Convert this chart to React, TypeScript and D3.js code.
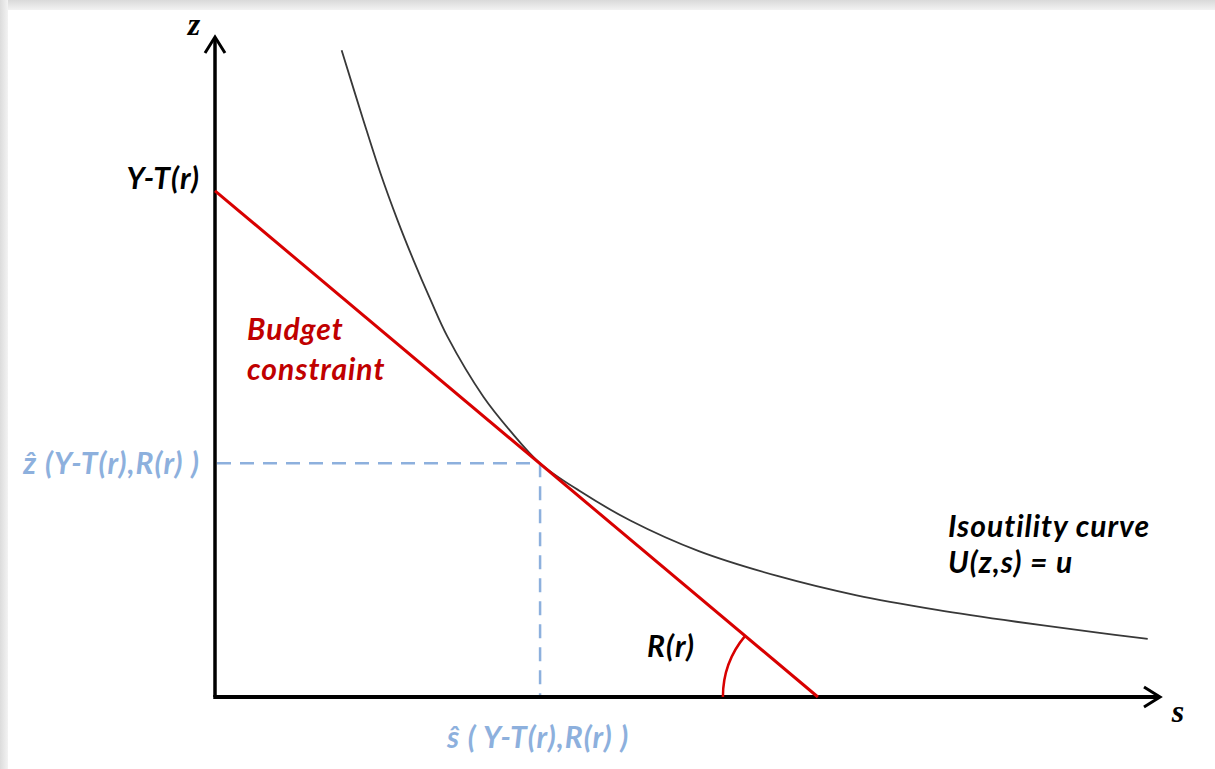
import React from 'react';
import * as d3 from 'd3';

// isoutility curve U(z,s)=u (s, z)
const curveS = [13.4, 15.7, 17.5, 19.3, 21.0, 22.8, 24.6, 28.4, 31.2, 34.4, 38.6, 44.0, 51.2, 59.6, 67.9, 76.4, 84.8, 93.2, 98.7];
const curveZ = [98.0, 87.4, 79.4, 72.3, 66.2, 60.2, 54.6, 45.5, 40.4, 35.4, 31.2, 26.7, 22.1, 18.3, 15.4, 13.2, 11.4, 9.8, 8.8];

// budget constraint: intercepts on both axes
const budgetZ = 76.7; // Y-T(r)
const budgetS = 63.8;

// optimum (tangency)
const sHat = 34.4;
const zHat = 35.4;

const W = 1215;
const H = 769;
const RED = '#d80000';
const DARK_RED = '#c00000';
const BLUE = '#8db0dd';
const LABEL_FONT = 'Lato, "Open Sans", sans-serif';

const App: React.FC = () => {
    const xScale = d3.scaleLinear().domain([0, 100]).range([215, 1160]);
    const yScale = d3.scaleLinear().domain([0, 100]).range([697, 37]);

    const x0 = xScale(0);
    const y0 = yScale(0);
    const xEnd = xScale(100);
    const yTop = yScale(100);

    const curveLine = d3.line<number>()
        .x((d) => xScale(d))
        .y((d, i) => yScale(curveZ[i]))
        .curve(d3.curveCatmullRom.alpha(0.5));

    // angle R(r) between budget line and s axis
    const bx = xScale(budgetS);
    const theta = Math.atan2(yScale(0) - yScale(budgetZ), xScale(budgetS) - xScale(0));
    const arcPath = d3.path();
    arcPath.arc(bx, y0, 95, Math.PI, Math.PI + theta);

    const chevron = (tx: number, ty: number, dir: 'up' | 'right') => {
        const a = 16;
        const b = 10;
        const pts = dir === 'up'
            ? [[tx - b, ty + a], [tx, ty], [tx + b, ty + a]]
            : [[tx - a, ty - b], [tx, ty], [tx - a, ty + b]];
        return d3.line()(pts as [number, number][]) ?? '';
    };

    const txt = {
        fontFamily: LABEL_FONT,
        fontStyle: 'italic',
        fontWeight: 'bold',
        fontSize: 30,
        letterSpacing: 1,
    } as const;

    return (
        <svg width={W} height={H} style={{ position: 'absolute', left: 0, top: 0 }}>
            <defs>
                <linearGradient id="topShade" x1="0" y1="0" x2="0" y2="1">
                    <stop offset="0" stopColor="#d9d9d9" />
                    <stop offset="1" stopColor="#f2f2f2" />
                </linearGradient>
                <linearGradient id="leftShade" x1="0" y1="0" x2="1" y2="0">
                    <stop offset="0" stopColor="#dcdcdc" />
                    <stop offset="1" stopColor="#f3f3f3" />
                </linearGradient>
            </defs>
            <rect x={0} y={0} width={W} height={H} fill="#ffffff" />
            <rect x={0} y={0} width={W} height={10} fill="url(#topShade)" />
            <rect x={0} y={0} width={8} height={H} fill="url(#leftShade)" />

            {/* axes */}
            <line x1={x0} y1={y0} x2={x0} y2={yTop + 1} stroke="#000" strokeWidth={3.5} />
            <line x1={x0 - 1.75} y1={y0} x2={xEnd - 1} y2={y0} stroke="#000" strokeWidth={4} />
            <path d={chevron(x0, yTop, 'up')} fill="none" stroke="#000" strokeWidth={3} />
            <path d={chevron(xEnd, y0, 'right')} fill="none" stroke="#000" strokeWidth={3} />
            <text x={x0 - 21} y={yTop - 2} textAnchor="middle" fontFamily='"Liberation Serif", serif' fontStyle="italic" fontWeight="bold" fontSize={32}>z</text>
            <text x={xEnd + 18} y={y0 + 25} textAnchor="middle" fontFamily='"Liberation Serif", serif' fontStyle="italic" fontWeight="bold" fontSize={32}>s</text>

            {/* optimum guides */}
            <line x1={x0 + 2} y1={yScale(zHat)} x2={xScale(sHat)} y2={yScale(zHat)} stroke={BLUE} strokeWidth={2.5} strokeDasharray="14 9" />
            <line x1={xScale(sHat)} y1={yScale(zHat)} x2={xScale(sHat)} y2={y0 - 2} stroke={BLUE} strokeWidth={2.5} strokeDasharray="14 9" />

            {/* isoutility curve */}
            <path d={curveLine(curveS) ?? ''} fill="none" stroke="#383838" strokeWidth={1.8} />

            {/* budget constraint */}
            <line x1={x0} y1={yScale(budgetZ)} x2={bx} y2={y0} stroke={RED} strokeWidth={3} />
            <path d={arcPath.toString()} fill="none" stroke={RED} strokeWidth={2.5} />

            {/* labels */}
            <text {...txt} x={x0 - 15} y={yScale(budgetZ) - 2} textAnchor="end" fill="#000">Y-T(r)</text>
            <text {...txt} x={247} y={340} fill={DARK_RED}>Budget</text>
            <text {...txt} x={247} y={380} fill={DARK_RED}>constraint</text>
            <text {...txt} x={x0 - 15} y={yScale(zHat) + 11} textAnchor="end" fill={BLUE}>ẑ (Y-T(r),R(r) )</text>
            <text {...txt} x={xScale(sHat) - 2} y={y0 + 51} textAnchor="middle" fill={BLUE}>ŝ ( Y-T(r),R(r) )</text>
            <text {...txt} x={647} y={657} fill="#000">R(r)</text>
            <text {...txt} x={948} y={537} fill="#000">Isoutility curve</text>
            <text {...txt} x={948} y={573} fill="#000">U(z,s) = u</text>
        </svg>
    );
};

export default App;
